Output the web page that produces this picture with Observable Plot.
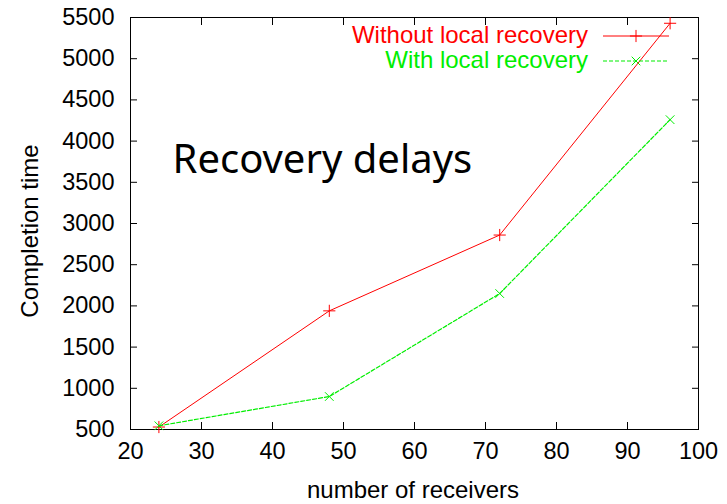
<!DOCTYPE html>
<html>
<head>
<meta charset="utf-8">
<script src="https://cdn.jsdelivr.net/npm/d3@7"></script>
<script src="https://cdn.jsdelivr.net/npm/@observablehq/plot@0.6"></script>
<style>
  body { margin: 0; background: #fff; }
  svg { font-family: "Liberation Sans", Arial, sans-serif; }
</style>
</head>
<body>
<div id="chart"></div>
<script>
const receivers = [24, 48, 72, 96];
const withoutLocal = [530, 1940, 2860, 5430];
const withLocal = [545, 900, 2150, 4260];
const seriesNames = ["Without local recovery", "With local recovery"];
const seriesColors = ["#ff0000", "#00ee00"];
const xTicks = [20, 30, 40, 50, 60, 70, 80, 90, 100];
const yTicks = [500, 1000, 1500, 2000, 2500, 3000, 3500, 4000, 4500, 5000, 5500];
const titleText = ["Recovery delays"];

const dataA = receivers.map((x, i) => ({x, y: withoutLocal[i]}));
const dataB = receivers.map((x, i) => ({x, y: withLocal[i]}));

const W = 727, H = 504;
const mL = 130, mR = 29, mT = 17, mB = 75;
const FS = 24, TFS = 23.5;

const svg = Plot.plot({
  width: W,
  height: H,
  marginLeft: mL,
  marginRight: mR,
  marginTop: mT,
  marginBottom: mB,
  style: {fontFamily: "Liberation Sans, Arial, sans-serif", fontSize: TFS + "px", color: "black", background: "white"},
  x: {domain: [20, 100], ticks: xTicks},
  y: {domain: [500, 5500], ticks: yTicks},
  marks: [
    Plot.frame({stroke: "black", strokeWidth: 1}),
    Plot.axisX({anchor: "bottom", ticks: xTicks, tickSize: 0, tickPadding: 13, label: null, fontSize: TFS, tickFormat: d => String(d)}),
    Plot.axisX({anchor: "bottom", ticks: xTicks, tickSize: -7, text: null, label: null}),
    Plot.axisX({anchor: "top", ticks: xTicks, tickSize: -7, text: null, label: null}),
    Plot.axisY({anchor: "left", ticks: yTicks, tickSize: 0, tickPadding: 16, label: null, fontSize: TFS, tickFormat: d => String(d)}),
    Plot.axisY({anchor: "left", ticks: yTicks, tickSize: -7, text: null, label: null}),
    Plot.axisY({anchor: "right", ticks: yTicks, tickSize: -7, text: null, label: null}),
    Plot.line(dataA, {x: "x", y: "y", stroke: seriesColors[0], strokeWidth: 1}),
    Plot.line(dataB, {x: "x", y: "y", stroke: seriesColors[1], strokeWidth: 1.2, strokeDasharray: "4,2"}),
    Plot.dot(dataA, {x: "x", y: "y", symbol: "plus", r: 4, stroke: seriesColors[0], strokeWidth: 1}),
    Plot.dot(dataB, {x: "x", y: "y", symbol: "times", r: 4, stroke: seriesColors[1], strokeWidth: 1}),
    Plot.text(titleText, {text: d => d, frameAnchor: "top-left", dx: 42, dy: 127, textAnchor: "start", lineAnchor: "top", fontSize: 40, fontFamily: "Noto Sans, sans-serif", fill: "black"})
  ]
});

// Axis labels and legend (key) drawn in pixel space
const s = d3.select(svg);
s.append("text")
  .attr("x", 413)
  .attr("y", 498)
  .attr("text-anchor", "middle")
  .attr("font-size", FS)
  .attr("fill", "black")
  .text("number of receivers");
s.append("text")
  .attr("transform", `translate(38,231) rotate(-90)`)
  .attr("text-anchor", "middle")
  .attr("font-size", FS)
  .attr("fill", "black")
  .text("Completion time");

const legendYs = [36, 61];
const symbols = [d3.symbolPlus, d3.symbolTimes];
seriesNames.forEach((name, i) => {
  const y = legendYs[i];
  s.append("text")
    .attr("x", 588)
    .attr("y", y + 7)
    .attr("text-anchor", "end")
    .attr("font-size", FS)
    .attr("fill", seriesColors[i])
    .text(name);
  s.append("line")
    .attr("x1", 603).attr("x2", 669)
    .attr("y1", y).attr("y2", y)
    .attr("stroke", seriesColors[i])
    .attr("stroke-width", i === 0 ? 1 : 1.2)
    .attr("stroke-dasharray", i === 0 ? null : "4,2");
  s.append("path")
    .attr("transform", `translate(636,${y})`)
    .attr("d", d3.symbol(symbols[i], 50)())
    .attr("fill", "none")
    .attr("stroke", seriesColors[i]);
});

document.getElementById("chart").appendChild(svg);
</script>
</body>
</html>
